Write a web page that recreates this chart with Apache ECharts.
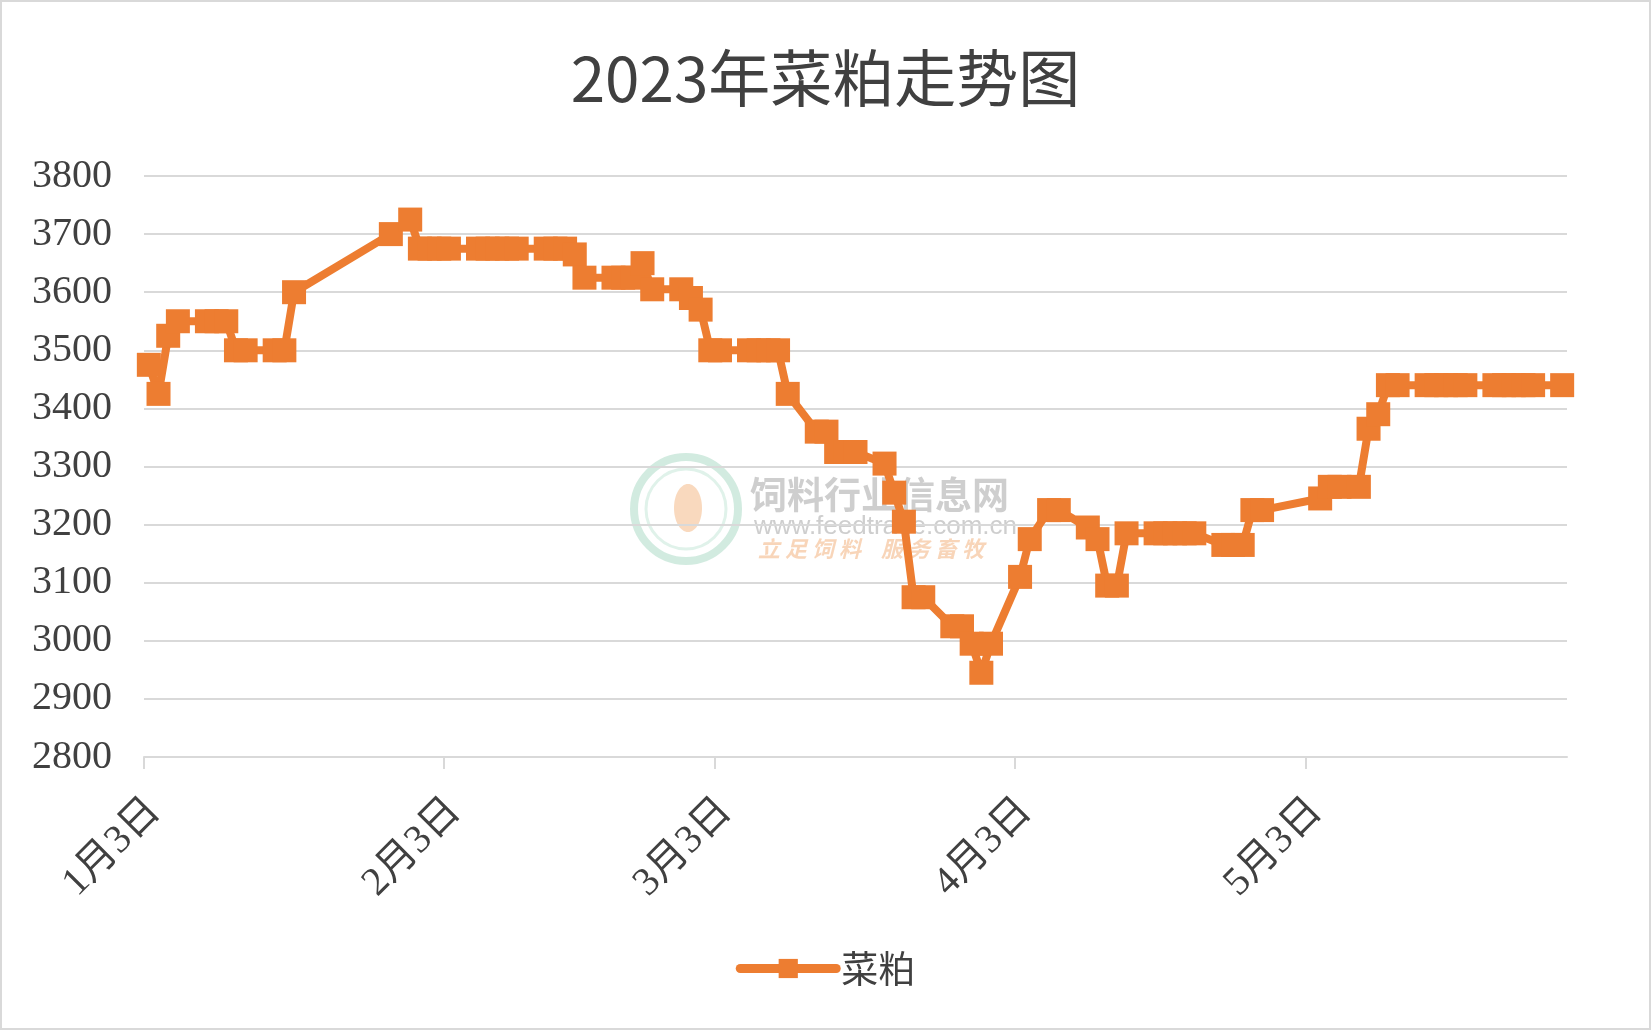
<!DOCTYPE html>
<html><head><meta charset="utf-8">
<script src="https://cdn.jsdelivr.net/npm/echarts@6/dist/echarts.min.js"></script>
<style>
html,body{margin:0;padding:0;background:#fff}
#c{width:1651px;height:1030px}
#b{position:absolute;left:0;top:0;width:1651px;height:1030px;box-sizing:border-box;border:2px solid #d9d9d9;pointer-events:none}
</style>
</head><body><div id="c"></div><div id="b"></div>
<script>
const seriesName = '菜粕';
const titleText = '2023年菜粕走势图';
const dates = [
 '2023-01-03','2023-01-04','2023-01-05','2023-01-06','2023-01-09','2023-01-10','2023-01-11','2023-01-12','2023-01-13','2023-01-16','2023-01-17','2023-01-18',
 '2023-01-28','2023-01-30','2023-01-31','2023-02-01','2023-02-02','2023-02-03','2023-02-06','2023-02-07','2023-02-08','2023-02-09','2023-02-10',
 '2023-02-13','2023-02-14','2023-02-15','2023-02-16','2023-02-17','2023-02-20','2023-02-21','2023-02-22','2023-02-23','2023-02-24','2023-02-27','2023-02-28',
 '2023-03-01','2023-03-02','2023-03-03','2023-03-06','2023-03-07','2023-03-08','2023-03-09','2023-03-10','2023-03-13','2023-03-14','2023-03-15','2023-03-16','2023-03-17',
 '2023-03-20','2023-03-21','2023-03-22','2023-03-23','2023-03-24','2023-03-27','2023-03-28','2023-03-29','2023-03-30','2023-03-31',
 '2023-04-03','2023-04-04','2023-04-06','2023-04-07','2023-04-10','2023-04-11','2023-04-12','2023-04-13','2023-04-14',
 '2023-04-17','2023-04-18','2023-04-19','2023-04-20','2023-04-21','2023-04-24','2023-04-25','2023-04-26','2023-04-27','2023-04-28',
 '2023-05-04','2023-05-05','2023-05-06','2023-05-08','2023-05-09','2023-05-10','2023-05-11','2023-05-12',
 '2023-05-15','2023-05-16','2023-05-17','2023-05-18','2023-05-19','2023-05-22','2023-05-23','2023-05-24','2023-05-25','2023-05-26','2023-05-29'
];
const values = [
 3475,3425,3525,3550,3550,3550,3550,3500,3500,3500,3500,3600,
 3700,3725,3675,3675,3675,3675,3675,3675,3675,3675,3675,
 3675,3675,3675,3665,3625,3625,3625,3625,3650,3605,3605,3590,
 3570,3500,3500,3500,3500,3500,3500,3425,3360,3360,3325,3325,3325,
 3305,3255,3205,3075,3075,3025,3025,2995,2945,2995,
 3110,3175,3225,3225,3195,3175,3095,3095,3185,
 3185,3185,3185,3185,3185,3165,3165,3165,3225,3225,
 3245,3265,3265,3265,3365,3390,3440,3440,
 3440,3440,3440,3440,3440,3440,3440,3440,3440,3440,3440
];
const tickDates = ['2023-01-03','2023-02-03','2023-03-03','2023-04-03','2023-05-03'];
const tickLabels = ['1月3日','2月3日','3月3日','4月3日','5月3日'];
const axisStartDate = '2023-01-03';
const axisEndDate = '2023-05-30';
const yMin = 2800, yMax = 3800, yStep = 100;

const DAY = 86400000;
const t0 = Date.parse(axisStartDate + 'T00:00:00Z');
const dayOf = d => (Date.parse(d + 'T00:00:00Z') - t0) / DAY;
const tickDays = tickDates.map(dayOf);
const labelShift = 1.1; // rotated label anchor sits a little right of its tick
const labelDays = tickDays.map(d => d + labelShift);
const data = dates.map((d, i) => [dayOf(d) + 0.5, values[i]]);

const chart = echarts.init(document.getElementById('c'));
const orange = '#ED7D31';
const grey = '#d9d9d9';
const textCol = '#404040';
chart.setOption({
  animation: false,
  backgroundColor: '#fff',
  title: {
    text: titleText, left: 'center', top: 42,
    textStyle: {fontFamily: 'Noto Sans CJK SC', fontSize: 62, fontWeight: 'normal', color: textCol}
  },
  legend: {
    bottom: 38, left: 'center', itemWidth: 96, itemHeight: 24, itemGap: 10,
    lineStyle: {width: 9, cap: 'round'},
    textStyle: {fontFamily: 'Noto Sans CJK SC', fontSize: 37, color: textCol},
    data: [seriesName]
  },
  grid: {left: 144, right: 84, top: 176, bottom: 273, containLabel: false},
  xAxis: {
    type: 'value', min: 0, max: dayOf(axisEndDate),
    splitLine: {show: false},
    axisLine: {lineStyle: {color: grey, width: 2}},
    axisTick: {show: true, customValues: tickDays, length: 12, lineStyle: {color: grey, width: 2}},
    axisLabel: {
      customValues: labelDays, rotate: 45, margin: 48,
      fontFamily: 'Liberation Serif, Noto Sans CJK SC', fontSize: 40, color: textCol,
      formatter: v => {
        let best = 0;
        labelDays.forEach((d, i) => { if (Math.abs(d - v) < Math.abs(labelDays[best] - v)) best = i; });
        return tickLabels[best];
      }
    }
  },
  yAxis: {
    type: 'value', min: yMin, max: yMax, interval: yStep,
    axisLine: {show: false}, axisTick: {show: false},
    splitLine: {lineStyle: {color: grey, width: 2}},
    axisLabel: {fontFamily: 'Liberation Serif', fontSize: 40, color: textCol, margin: 32,
      formatter: v => String(v)}
  },
  series: [{
    name: seriesName, type: 'line', data: data,
    symbol: 'rect', symbolSize: 24, showAllSymbol: true,
    lineStyle: {color: orange, width: 8, join: 'round', cap: 'round'},
    itemStyle: {color: orange},
    z: 2
  }],
  graphic: [{
    type: 'group', z: 100, silent: true,
    children: [
      {type: 'circle', shape: {cx: 686, cy: 509, r: 52}, style: {fill: 'none', stroke: '#bfe3d3', lineWidth: 8, opacity: 0.7}},
      {type: 'circle', shape: {cx: 686, cy: 509, r: 40}, style: {fill: 'none', stroke: '#d3ece1', lineWidth: 3, opacity: 0.7}},
      {type: 'ellipse', shape: {cx: 688, cy: 508, rx: 14, ry: 24}, style: {fill: '#f6c9a3', opacity: 0.7}},
      {type: 'text', x: 750, y: 476, style: {text: '饲料行业信息网', font: 'bold 37px "Noto Sans CJK SC"', fill: '#bdbdbd', opacity: 0.75}},
      {type: 'text', x: 754, y: 514, style: {text: 'www.feedtrade.com.cn', font: '26px "Liberation Sans"', fill: '#bdbdbd', opacity: 0.75}},
      {type: 'text', x: 758, y: 538, style: {text: '立 足 饲 料    服 务 畜 牧', font: 'italic bold 22px "Noto Sans CJK SC"', fill: '#f6c7a2', opacity: 0.75}}
    ]
  }]
});
</script>
</body></html>
